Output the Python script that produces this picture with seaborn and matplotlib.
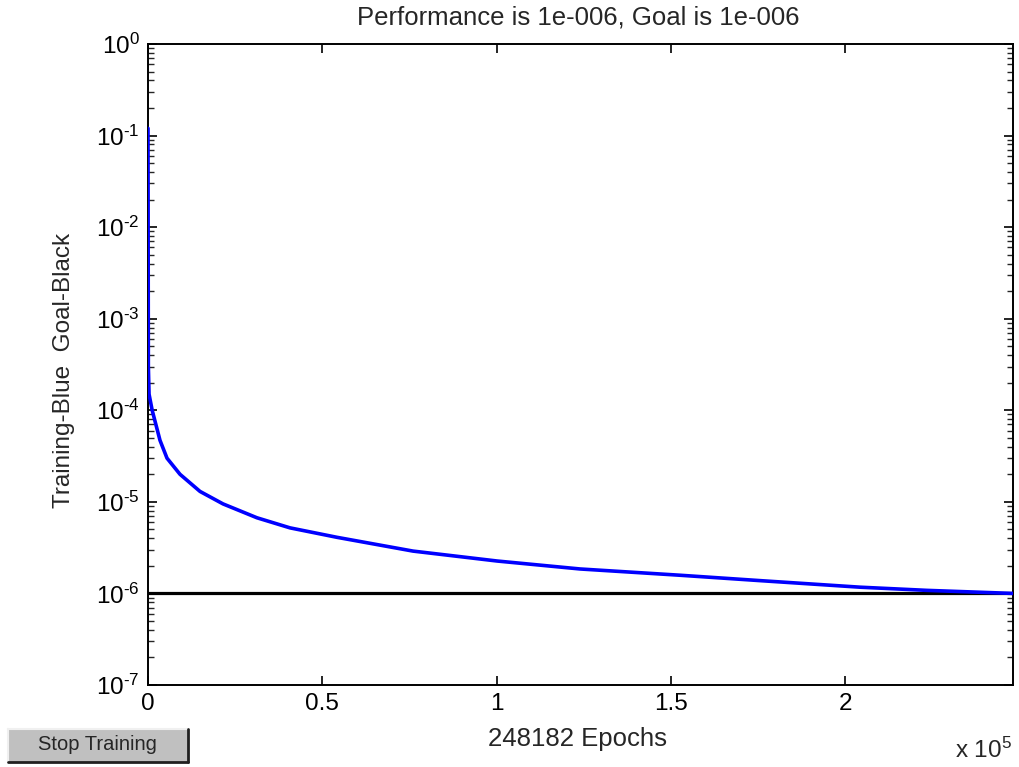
import numpy as np
import pandas as pd
import matplotlib
matplotlib.use("Agg")
import matplotlib.pyplot as plt
import matplotlib.ticker as mticker
from matplotlib.patches import Rectangle
import seaborn as sns

# ---- data ----
epochs = [0, 100, 300, 1200, 3440, 5450, 9180, 14920, 21520, 31270, 40740,
          54220, 76030, 100130, 123940, 152630, 175580, 204270, 223490, 248182]
perf = [0.12, 3.0e-4, 1.5e-4, 1.0e-4, 4.7e-5, 3.0e-5, 2.0e-5, 1.3e-5, 9.5e-6,
        6.7e-6, 5.2e-6, 4.1e-6, 2.9e-6, 2.26e-6, 1.85e-6, 1.58e-6, 1.38e-6,
        1.17e-6, 1.08e-6, 1.0e-6]
goal = 1e-6
total_epochs = 248182
xtick_vals = [0, 0.5, 1, 1.5, 2]
title_text = "Performance is 1e-006, Goal is 1e-006"
ylabel_text = "Training-Blue  Goal-Black"
xlabel_text = f"{total_epochs} Epochs"

sns.set_style("ticks")
plt.rcParams['font.family'] = ['Liberation Sans', 'DejaVu Sans']
plt.rcParams['mathtext.fontset'] = 'custom'
plt.rcParams['mathtext.rm'] = 'Liberation Sans'
plt.rcParams['mathtext.it'] = 'Liberation Sans'
plt.rcParams['mathtext.default'] = 'regular'

W, H = 1019, 767
fig = plt.figure(figsize=(W / 100, H / 100), dpi=100)
fig.patch.set_facecolor("white")
ax = fig.add_axes([148 / W, 1 - 685 / H, (1013 - 148) / W, (685 - 44) / H])

df = pd.DataFrame({"epoch": epochs, "perf": perf})
gdf = pd.DataFrame({"epoch": [0, total_epochs], "perf": [goal, goal]})

sns.lineplot(data=gdf, x="epoch", y="perf", ax=ax, color="black", linewidth=2.3, zorder=3)
sns.lineplot(data=df, x="epoch", y="perf", ax=ax, color="#0000ff", linewidth=2.6, zorder=4)

ax.set_yscale("log")
ax.set_ylim(1e-7, 1e0)
ax.set_xlim(0, total_epochs)
ax.set_xticks([v * 1e5 for v in xtick_vals])
ax.set_xticklabels([f"{v:g}" for v in xtick_vals])
ax.yaxis.set_major_locator(mticker.LogLocator(base=10, numticks=10))
ax.yaxis.set_minor_locator(mticker.LogLocator(base=10, subs=np.arange(2, 10), numticks=20))
ax.yaxis.set_minor_formatter(mticker.NullFormatter())


def ylab(v, pos):
    e = int(round(np.log10(v)))
    if e < 0:
        return r"10$^{\text{-}%d}$" % (-e)
    return r"10$^{%d}$" % e


ax.yaxis.set_major_formatter(mticker.FuncFormatter(ylab))

for s in ax.spines.values():
    s.set_visible(True)
    s.set_linewidth(1.4)
    s.set_color("black")
ax.tick_params(axis="both", which="major", direction="in", length=6.5, width=1.2,
               top=True, right=True, labelsize=17.5, colors="black")
ax.tick_params(axis="x", which="major", pad=6)
ax.tick_params(axis="y", which="major", pad=6)
ax.tick_params(axis="y", which="minor", direction="in", length=4.3, width=1.0,
               left=True, right=True)
ax.tick_params(axis="x", which="minor", bottom=False, top=False)

ax.set_xlabel("")
ax.set_ylabel("")
fig.text(578 / W, 1 - 17 / H, title_text, ha="center", va="center", fontsize=18.5)
fig.text(577 / W, 1 - 739 / H, xlabel_text, ha="center", va="center", fontsize=18.5)
fig.text(64 / W, 1 - 370 / H, ylabel_text, ha="center", va="center",
         rotation=90, fontsize=17.5)
fig.text(1012 / W, 1 - 750 / H, r"x 10$^{5}$", ha="right", va="center", fontsize=17.5)

# Stop Training button
bx0, by0, bw, bh = 8, 729, 180, 33
fig.patches.append(Rectangle((bx0 / W, 1 - (by0 + bh) / H), bw / W, bh / H,
                             transform=fig.transFigure, facecolor="#c0c0c0",
                             edgecolor="none"))
fig.lines.append(plt.Line2D([bx0 / W, (bx0 + bw) / W], [1 - by0 / H, 1 - by0 / H],
                            transform=fig.transFigure, color="#f0f0f0", lw=1.5))
fig.lines.append(plt.Line2D([bx0 / W, bx0 / W], [1 - by0 / H, 1 - (by0 + bh) / H],
                            transform=fig.transFigure, color="#f0f0f0", lw=1.5))
fig.lines.append(plt.Line2D([bx0 / W, (bx0 + bw) / W], [1 - (by0 + bh) / H, 1 - (by0 + bh) / H],
                            transform=fig.transFigure, color="#202020", lw=2))
fig.lines.append(plt.Line2D([(bx0 + bw) / W, (bx0 + bw) / W], [1 - by0 / H, 1 - (by0 + bh) / H],
                            transform=fig.transFigure, color="#202020", lw=2))
fig.text((bx0 + bw / 2 - 1) / W, 1 - 744 / H, "Stop Training",
         ha="center", va="center", fontsize=14.5)

fig.savefig("out.png", dpi=100, facecolor="white")
